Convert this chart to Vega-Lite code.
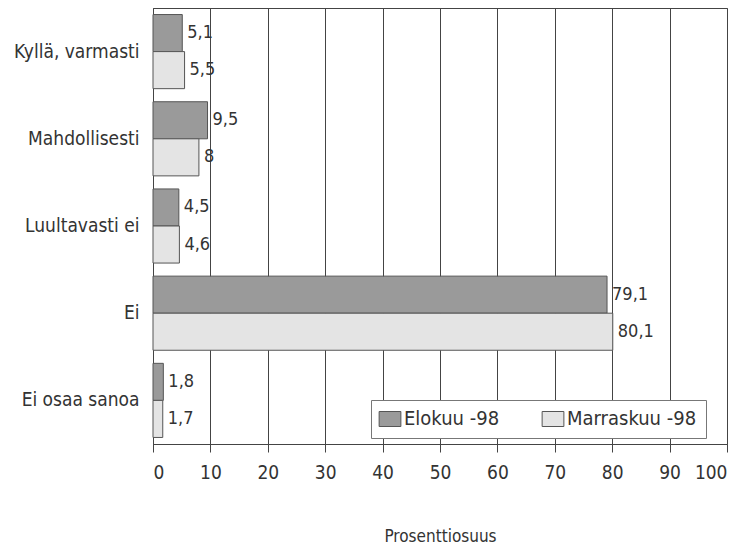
{
  "$schema": "https://vega.github.io/schema/vega-lite/v6.json",
  "width": 574,
  "height": 436,
  "autosize": "none",
  "padding": {"left": 153, "top": 8, "right": 18, "bottom": 105},
  "background": "white",
  "config": {
    "font": "DejaVu Sans Condensed",
    "view": {"stroke": "#444", "strokeWidth": 1}
  },
  "data": {
    "values": [
      {"kategoria": "Kyllä, varmasti", "sarja": "Elokuu -98", "arvo": 5.1, "teksti": "5,1"},
      {"kategoria": "Kyllä, varmasti", "sarja": "Marraskuu -98", "arvo": 5.5, "teksti": "5,5"},
      {"kategoria": "Mahdollisesti", "sarja": "Elokuu -98", "arvo": 9.5, "teksti": "9,5"},
      {"kategoria": "Mahdollisesti", "sarja": "Marraskuu -98", "arvo": 8, "teksti": "8"},
      {"kategoria": "Luultavasti ei", "sarja": "Elokuu -98", "arvo": 4.5, "teksti": "4,5"},
      {"kategoria": "Luultavasti ei", "sarja": "Marraskuu -98", "arvo": 4.6, "teksti": "4,6"},
      {"kategoria": "Ei", "sarja": "Elokuu -98", "arvo": 79.1, "teksti": "79,1"},
      {"kategoria": "Ei", "sarja": "Marraskuu -98", "arvo": 80.1, "teksti": "80,1"},
      {"kategoria": "Ei osaa sanoa", "sarja": "Elokuu -98", "arvo": 1.8, "teksti": "1,8"},
      {"kategoria": "Ei osaa sanoa", "sarja": "Marraskuu -98", "arvo": 1.7, "teksti": "1,7"}
    ]
  },
  "encoding": {
    "y": {
      "field": "kategoria",
      "type": "nominal",
      "sort": ["Kyllä, varmasti", "Mahdollisesti", "Luultavasti ei", "Ei", "Ei osaa sanoa"],
      "scale": {"paddingInner": 0.15, "paddingOuter": 0.075},
      "axis": {
        "title": null,
        "labelFontSize": 19,
        "labelColor": "#333",
        "labelPadding": 14,
        "ticks": false,
        "domainColor": "#444",
        "labelFont": "DejaVu Sans Condensed"
      }
    },
    "yOffset": {
      "field": "sarja",
      "type": "nominal",
      "sort": ["Elokuu -98", "Marraskuu -98"],
      "scale": {"paddingInner": 0, "paddingOuter": 0}
    },
    "x": {
      "field": "arvo",
      "type": "quantitative",
      "scale": {"domain": [0, 100], "nice": false},
      "axis": {
        "title": "Prosenttiosuus",
        "titleFontSize": 17,
        "titleFontWeight": "normal",
        "titleColor": "#333",
        "titlePadding": 46,
        "values": [0, 10, 20, 30, 40, 50, 60, 70, 80, 90, 100],
        "labelFontSize": 19,
        "labelColor": "#333",
        "labelPadding": 11,
        "tickSize": 8,
        "tickColor": "#444",
        "domainColor": "#444",
        "grid": true,
        "gridColor": "#444",
        "gridOpacity": 1,
        "labelFont": "DejaVu Sans Condensed",
        "titleFont": "DejaVu Sans Condensed"
      }
    }
  },
  "layer": [
    {
      "mark": {"type": "bar", "stroke": "#555", "strokeWidth": 1},
      "encoding": {
        "fill": {
          "field": "sarja",
          "type": "nominal",
          "sort": ["Elokuu -98", "Marraskuu -98"],
          "scale": {"domain": ["Elokuu -98", "Marraskuu -98"], "range": ["#9a9a9a", "#e4e4e4"]},
          "legend": {
            "title": null,
            "orient": "none",
            "legendX": 218,
            "legendY": 392,
            "direction": "horizontal",
            "symbolType": "M-1.45,-1L1.45,-1L1.45,1L-1.45,1Z",
            "symbolSize": 225,
            "symbolStrokeColor": "#555",
            "symbolStrokeWidth": 1,
            "labelFontSize": 20,
            "labelColor": "#333",
            "labelFont": "DejaVu Sans Condensed",
            "columnPadding": 40,
            "labelOffset": 4,
            "padding": 9,
            "strokeColor": "#777",
            "fillColor": "white"
          }
        }
      }
    },
    {
      "mark": {"type": "text", "align": "left", "dx": 5, "fontSize": 18, "color": "#333", "font": "DejaVu Sans Condensed"},
      "encoding": {
        "text": {"field": "teksti", "type": "nominal"}
      }
    }
  ]
}
